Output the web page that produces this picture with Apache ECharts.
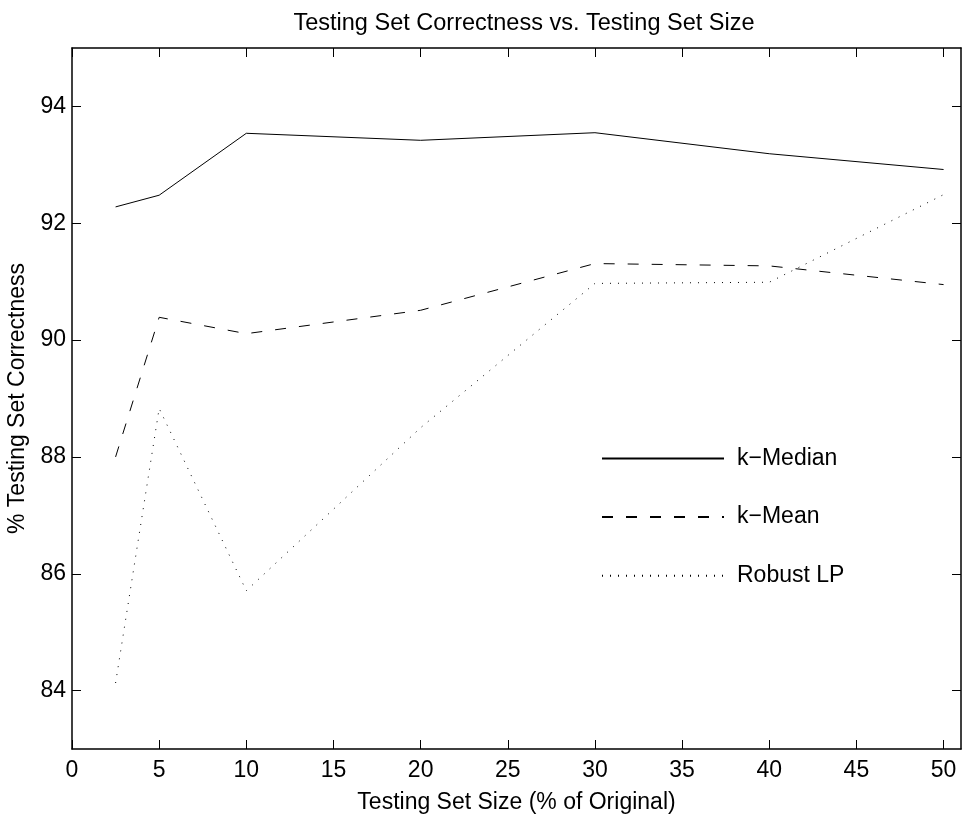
<!DOCTYPE html>
<html>
<head>
<meta charset="utf-8">
<script src="https://cdn.jsdelivr.net/npm/echarts@6/dist/echarts.min.js"></script>
<style>
  html, body { margin: 0; padding: 0; background: #fff; }
  #chart { width: 964px; height: 814px; }
</style>
</head>
<body>
<div id="chart"></div>
<script>
// Testing set size, in % of the original data set
const testSizes = [2.5, 5, 10, 20, 30, 40, 50];
// % testing set correctness per method
const kMedian  = [92.28, 92.48, 93.54, 93.42, 93.55, 93.19, 92.92];
const kMean    = [88.00, 90.39, 90.11, 90.51, 91.31, 91.27, 90.95];
const robustLP = [84.13, 88.83, 85.71, 88.50, 90.97, 90.99, 92.49];
// axis tick positions
const xTicks = [0, 5, 10, 15, 20, 25, 30, 35, 40, 45, 50];
const yTicks = [84, 86, 88, 90, 92, 94];

const FONT = '"Liberation Sans", Arial, Helvetica, sans-serif';
const pairs = ys => testSizes.map((x, i) => [x, ys[i]]);

const axisLine = { show: true, onZero: false, lineStyle: { color: '#000', width: 1.5 } };
const tick = vals => ({ show: true, inside: true, length: 9, customValues: vals,
                        lineStyle: { color: '#000', width: 1 } });

const chart = echarts.init(document.getElementById('chart'), null, { renderer: 'canvas' });
chart.setOption({
  animation: false,
  backgroundColor: '#fff',
  title: {
    text: 'Testing Set Correctness vs. Testing Set Size',
    left: 519, top: 7, textAlign: 'center',
    textStyle: { fontFamily: FONT, fontSize: 23.5, fontWeight: 'normal', color: '#000' }
  },
  grid: { left: 72, top: 48, right: 3, bottom: 65, containLabel: false, outerBoundsMode: 'none' },
  legend: {
    orient: 'vertical', left: 596, top: 442,
    itemWidth: 122, itemHeight: 14, itemGap: 35.6,
    selectedMode: false,
    itemStyle: { opacity: 0 },
    textStyle: { fontFamily: FONT, fontSize: 23, color: '#000', padding: [0, 0, 0, 8] },
    data: ['k\u2212Median', 'k\u2212Mean', 'Robust LP']
  },
  xAxis: [{
    type: 'value', position: 'bottom', min: 0, max: 51,
    name: 'Testing Set Size (% of Original)', nameLocation: 'middle', nameGap: 42,
    nameTextStyle: { fontFamily: FONT, fontSize: 23, color: '#000' },
    axisLine, axisTick: tick(xTicks),
    axisLabel: { customValues: xTicks, margin: 10, fontFamily: FONT, fontSize: 23, color: '#000' },
    splitLine: { show: false }
  }, {
    type: 'value', position: 'top', min: 0, max: 51,
    axisLine, axisTick: tick(xTicks), axisLabel: { show: false }, splitLine: { show: false }
  }],
  yAxis: [{
    type: 'value', position: 'left', min: 83, max: 95,
    name: '% Testing Set Correctness', nameLocation: 'middle', nameGap: 38, nameRotate: 90,
    nameTextStyle: { fontFamily: FONT, fontSize: 23, color: '#000' },
    axisLine, axisTick: tick(yTicks),
    axisLabel: { customValues: yTicks, margin: 6, fontFamily: FONT, fontSize: 23, color: '#000' },
    splitLine: { show: false }
  }, {
    type: 'value', position: 'right', min: 83, max: 95,
    axisLine, axisTick: tick(yTicks), axisLabel: { show: false }, splitLine: { show: false }
  }],
  series: [{
    name: 'k\u2212Median', type: 'line', data: pairs(kMedian),
    symbol: 'none', color: '#000',
    lineStyle: { color: '#000', width: 1, type: 'solid' }
  }, {
    name: 'k\u2212Mean', type: 'line', data: pairs(kMean),
    symbol: 'none', color: '#000',
    lineStyle: { color: '#000', width: 1, type: [11, 13] }
  }, {
    name: 'Robust LP', type: 'line', data: pairs(robustLP),
    symbol: 'none', color: '#000',
    lineStyle: { color: '#000', width: 1, type: [1, 7] }
  }]
});
</script>
</body>
</html>
